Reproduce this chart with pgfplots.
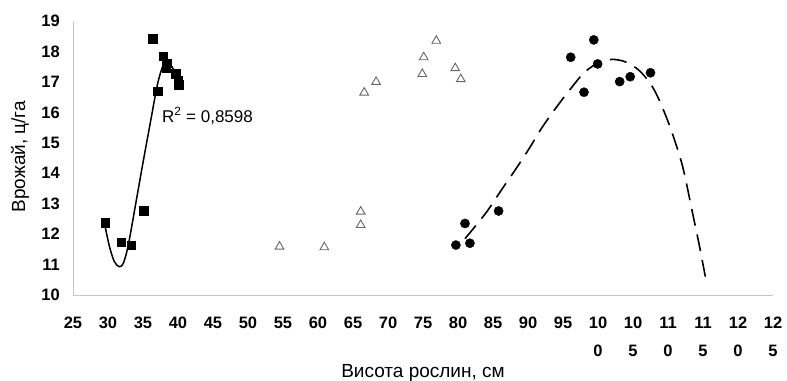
\documentclass[border=0pt]{standalone}
\usepackage{fontspec}
\setmainfont{Liberation Sans}
\usepackage{pgfplots}
\pgfplotsset{compat=1.18}
\begin{document}
\begin{tikzpicture}
\begin{axis}[
 at={(0,0)}, anchor=south west,
 scale only axis, width=700bp, height=274bp,
 xmin=25, xmax=125, ymin=10, ymax=19,
 xtick={25,30,...,125},
 xticklabels={25,30,35,40,45,50,55,60,65,70,75,80,85,90,95,{10\\0},{10\\5},{11\\0},{11\\5},{12\\0},{12\\5}},
 ytick={10,11,...,19},
 axis lines*=left, axis line style={gray!45, line width=0.8bp},
 major tick length=0pt,
 xticklabel style={font=\fontsize{16.5bp}{28bp}\bfseries\selectfont, align=center, anchor=north, inner sep=0pt, yshift=-22bp},
 yticklabel style={font=\fontsize{16.5bp}{20bp}\bfseries\selectfont, anchor=east, inner sep=0pt, xshift=-13bp},
 /pgf/number format/assume math mode=true,
 xlabel={Висота рослин, см}, ylabel={Врожай, ц/га},
 every axis x label/.style={at={(axis description cs:0.5,-0.285)}, anchor=center, font=\fontsize{19bp}{22bp}\selectfont},
 every axis y label/.style={at={(axis description cs:-0.0757,0.505)}, anchor=center, rotate=90, font=\fontsize{19bp}{22bp}\selectfont},
 clip=false,
]
% squares
\addplot[only marks, mark=square*, mark size=4.3bp, black] coordinates {
(29.6,12.37) (31.9,11.74) (33.3,11.64) (35.1,12.76) (36.4,18.41) (37.1,16.70)
(37.9,17.85) (38.4,17.62) (38.3,17.46) (39.7,17.26) (40.0,17.06) (40.1,16.9)};
% solid trend
\addplot[smooth, black, line width=1.5bp, no marks] coordinates {
(29.5,12.35) (30.2,11.6) (30.9,11.1) (31.6,10.93) (32.2,11.05) (32.9,11.64)
(34,13.05) (35,14.35) (36,15.6) (36.95,16.79) (37.5,17.3) (37.9,17.55)
(38.4,17.68) (39,17.55) (39.6,17.3) (40.2,17.05)};
% triangles
\addplot[only marks, mark=triangle, mark size=5bp, gray!80!black, mark options={line width=0.9bp}] coordinates {
(54.5,11.59) (60.9,11.57) (66.1,12.74) (66.1,12.30) (66.6,16.65) (68.3,17.0)
(74.9,17.26) (75.1,17.81) (76.9,18.35) (79.6,17.45) (80.4,17.09)};
% circles
\addplot[only marks, mark=*, mark size=4.6bp, black] coordinates {
(79.7,11.64) (81.7,11.70) (81.0,12.35) (85.8,12.76) (96.1,17.81) (99.4,18.38)
(99.95,17.59) (98.0,16.66) (103.1,17.01) (104.6,17.17) (107.5,17.30)};
% dashed trend
\addplot[smooth, black, line width=1.6bp, no marks, dash pattern=on 17bp off 9bp] coordinates {
(81,11.85) (84,12.7) (86.2,13.45) (88,14.05) (90,14.75) (92,15.5) (94,16.15)
(96,16.75) (98,17.3) (100,17.62) (102,17.74) (104,17.65) (106,17.35) (108,16.75)
(110,15.7) (112,14.3) (113.5,12.7) (114.5,11.6) (115.5,10.4)};
\node[anchor=west, inner sep=0pt, font=\fontsize{17bp}{20bp}\selectfont] at (axis cs:37.7,15.88) {R\textsuperscript{2} = 0,8598};
\end{axis}
\pgfresetboundingbox
\path[use as bounding box] (-73bp,-86bp) rectangle (714bp,295bp);
\end{tikzpicture}
\end{document}
